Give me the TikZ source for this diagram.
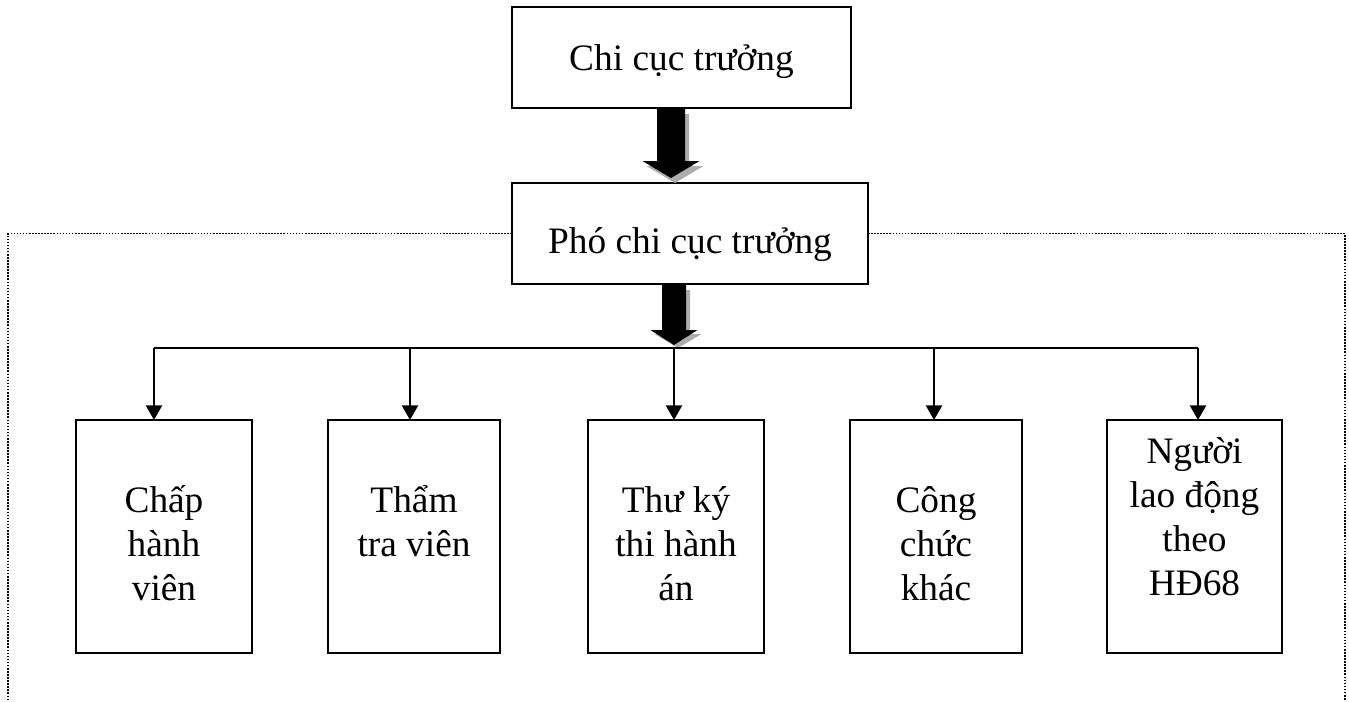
\documentclass[tikz,border=0pt]{standalone}
\usepackage{fontspec}
\setmainfont{Liberation Serif}
\usetikzlibrary{arrows.meta,calc}
\newcommand{\fstrut}{\rule{0pt}{30pt}}
\begin{document}
\begin{tikzpicture}[x=0.75pt,y=-0.75pt,
  box/.style={draw, line width=1.8pt, rectangle, inner sep=0pt, outer sep=0pt},
  bigfont/.style={font=\fontsize{28}{33}\selectfont},
  txt/.style={bigfont, align=center, inner sep=0pt, anchor=north},
  conn/.style={line width=1.8pt, -{Triangle[width=12pt,length=11pt]}},
  bline/.style={line width=1.8pt},
  frameline/.style={line width=1.4pt, dash pattern=on 1.2pt off 1.1pt},
  blk/.style={fill=black},
  shd/.style={fill=black!32}]
\useasboundingbox (0,0) rectangle (1349,701);

% top boxes
\node[box, bigfont, minimum width=254.25pt, minimum height=75.75pt, text height=18.75pt, text depth=0pt] (top) at (681.5,57.5) {Chi cục trưởng};
\node[box, bigfont, minimum width=267pt, minimum height=75.75pt, text height=29.25pt, text depth=0pt] (P) at (690,233.5) {Phó chi cục trưởng};

% dotted frame
\coordinate (fl) at (8,701);
\coordinate (fr) at (1345,701);
\draw[frameline] (P.west) -- (P.west -| fl) -- (fl);
\draw[frameline] (P.east) -- (P.east -| fr) -- (fr);

% block arrow 1
\coordinate (a1) at ($(top.south)+(-10.5,0)$);
\begin{scope}[shift={(a1)}]
  \fill[shd] (-10,6) -- (18,6) -- (18,58) -- (32.5,58) -- (4,75) -- (-24.5,58) -- (-10,58) -- cycle;
  \fill[blk] (-14,0) -- (14,0) -- (14,53) -- (28.5,53) -- (0,70) -- (-28.5,53) -- (-14,53) -- cycle;
\end{scope}

% block arrow 2
\coordinate (a2) at ($(P.south)+(-16,0)$);
\begin{scope}[shift={(a2)}]
  \fill[shd] (-8,6) -- (16,6) -- (16,50) -- (27.5,50) -- (4,64) -- (-19.5,50) -- (-8,50) -- cycle;
  \fill[blk] (-12,0) -- (12,0) -- (12,46) -- (23.5,46) -- (0,61) -- (-23.5,46) -- (-12,46) -- cycle;
\end{scope}

% bottom boxes
\node[box, minimum width=132pt, minimum height=174.75pt] (b1) at (164,536.5) {};
\node[box, minimum width=129pt, minimum height=174.75pt] (b2) at (414,536.5) {};
\node[box, minimum width=132pt, minimum height=174.75pt] (b3) at (676,536.5) {};
\node[box, minimum width=129pt, minimum height=174.75pt] (b4) at (936,536.5) {};
\node[box, minimum width=131.25pt, minimum height=174.75pt] (b5) at (1194.5,536.5) {};

\node[txt] (t1) at ($(b1.north)+(0,52)$) {\fstrut Chấp\\hành\\viên};
\node[txt] (t2) at ($(b2.north)+(0,52)$) {\fstrut Thẩm\\tra viên};
\node[txt] (t3) at ($(b3.north)+(0,52)$) {\fstrut Thư ký\\thi hành\\án};
\node[txt] (t4) at ($(b4.north)+(0,52)$) {\fstrut Công\\chức\\khác};
\node[txt] (t5) at ($(b5.north)+(0,3)$) {\fstrut Người\\lao động\\theo\\HĐ68};

% branch connectors
\coordinate (h1) at (154,348);
\coordinate (h2) at (410,348);
\coordinate (h3) at (674,348);
\coordinate (h4) at (934,348);
\coordinate (h5) at (1198,348);
\draw[bline] (h1) -- (h5);
\draw[conn] (h1) -- (h1 |- b1.north);
\draw[conn] (h2) -- (h2 |- b2.north);
\draw[conn] (h3) -- (h3 |- b3.north);
\draw[conn] (h4) -- (h4 |- b4.north);
\draw[conn] (h5) -- (h5 |- b5.north);
\end{tikzpicture}
\end{document}
